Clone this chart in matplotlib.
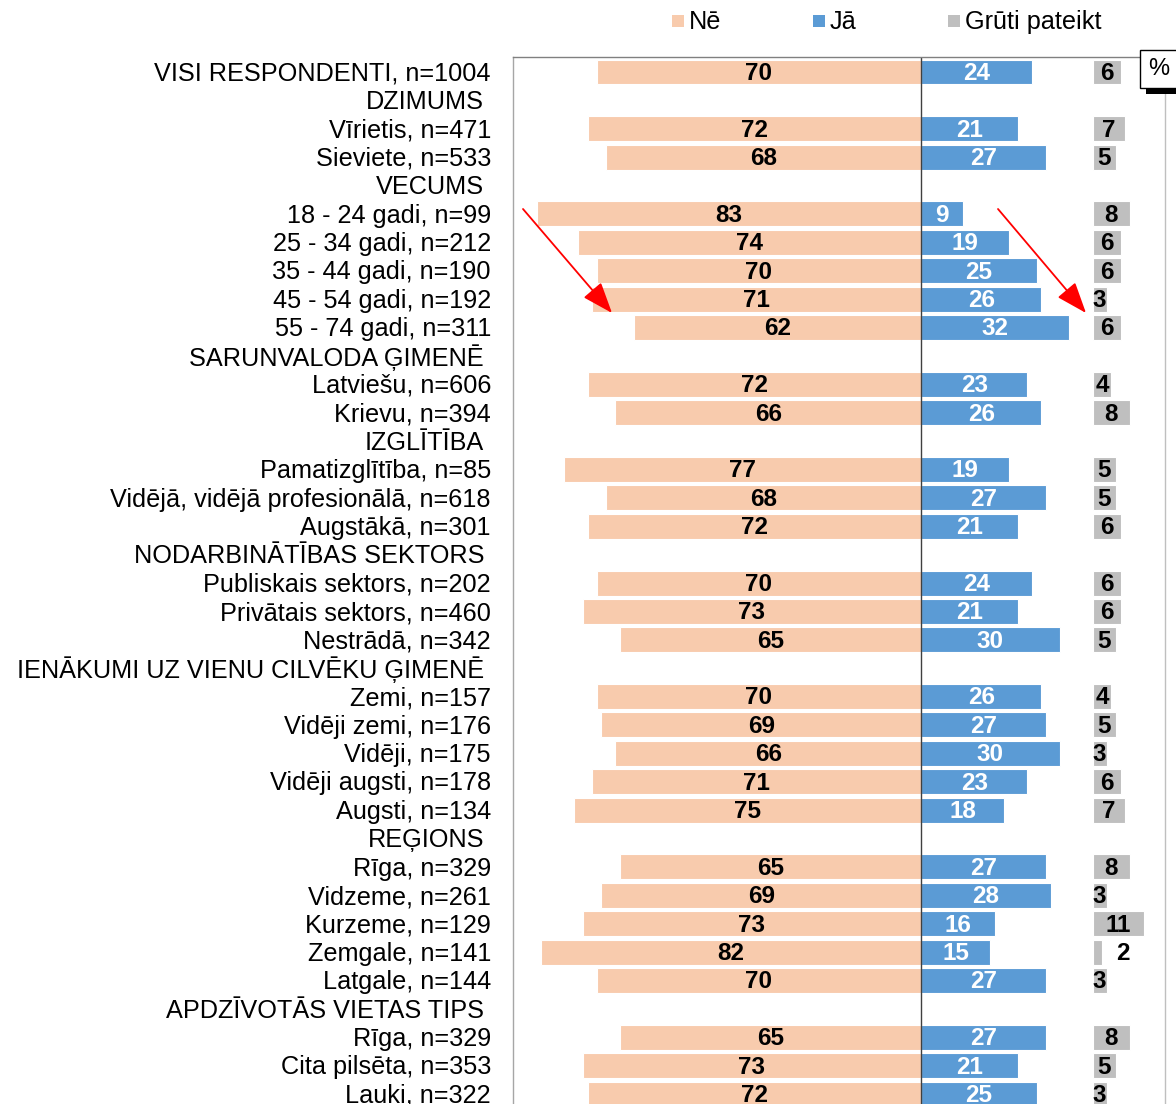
import matplotlib
matplotlib.use("Agg")
import matplotlib.pyplot as plt
from matplotlib.patches import Rectangle
from matplotlib.transforms import blended_transform_factory

categories = [
    "VISI RESPONDENTI, n=1004", "DZIMUMS", "Vīrietis, n=471", "Sieviete, n=533",
    "VECUMS", "18 - 24 gadi, n=99", "25 - 34 gadi, n=212", "35 - 44 gadi, n=190",
    "45 - 54 gadi, n=192", "55 - 74 gadi, n=311", "SARUNVALODA ĢIMENĒ",
    "Latviešu, n=606", "Krievu, n=394", "IZGLĪTĪBA", "Pamatizglītība, n=85",
    "Vidējā, vidējā profesionālā, n=618", "Augstākā, n=301", "NODARBINĀTĪBAS SEKTORS",
    "Publiskais sektors, n=202", "Privātais sektors, n=460", "Nestrādā, n=342",
    "IENĀKUMI UZ VIENU CILVĒKU ĢIMENĒ", "Zemi, n=157", "Vidēji zemi, n=176",
    "Vidēji, n=175", "Vidēji augsti, n=178", "Augsti, n=134", "REĢIONS",
    "Rīga, n=329", "Vidzeme, n=261", "Kurzeme, n=129", "Zemgale, n=141",
    "Latgale, n=144", "APDZĪVOTĀS VIETAS TIPS", "Rīga, n=329",
    "Cita pilsēta, n=353", "Lauki, n=322",
]
headers = {"DZIMUMS", "VECUMS", "SARUNVALODA ĢIMENĒ", "IZGLĪTĪBA", "NODARBINĀTĪBAS SEKTORS",
           "IENĀKUMI UZ VIENU CILVĒKU ĢIMENĒ", "REĢIONS", "APDZĪVOTĀS VIETAS TIPS"}

ne = [70, 72, 68, 83, 74, 70, 71, 62, 72, 66, 77, 68, 72, 70, 73, 65,
      70, 69, 66, 71, 75, 65, 69, 73, 82, 70, 65, 73, 72]
ja = [24, 21, 27, 9, 19, 25, 26, 32, 23, 26, 19, 27, 21, 24, 21, 30,
      26, 27, 30, 23, 18, 27, 28, 16, 15, 27, 27, 21, 25]
gruti = [6, 7, 5, 8, 6, 6, 3, 6, 4, 8, 5, 5, 6, 6, 6, 5,
         4, 5, 3, 6, 7, 8, 3, 11, 2, 3, 8, 5, 3]
legend_labels = ["Nē", "Jā", "Grūti pateikt"]

C_NE = "#F8CBAD"
C_JA = "#5B9BD5"
C_GR = "#BFBFBF"
GR_OFFSET = 37.1

W, H = 1176, 1104
fig = plt.figure(figsize=(W / 100, H / 100), dpi=100)

row_px = 28.39
row0_y = 72
top_px = 57
ylim_top = -(row0_y - top_px) / row_px
ylim_bot = 37.0
bot_px = row0_y + ylim_bot * row_px
left_px, right_px = 513, 1165
ax = fig.add_axes([left_px / W, 1 - bot_px / H, (right_px - left_px) / W, (bot_px - top_px) / H])
ax.set_xlim(-88.1, 52.7)
ax.set_ylim(ylim_bot, ylim_top)

data_rows = [i for i, c in enumerate(categories) if c not in headers]

ax.barh(data_rows, [-v for v in ne], height=0.88, color=C_NE, edgecolor="white", linewidth=0.8)
ax.barh(data_rows, ja, height=0.88, color=C_JA, edgecolor="white", linewidth=0.8)
ax.barh(data_rows, gruti, left=GR_OFFSET, height=0.88, color=C_GR, edgecolor="white", linewidth=0.8)

lab_font = ["Liberation Sans", "DejaVu Sans"]
dy = 0.05
for r, n, j, g in zip(data_rows, ne, ja, gruti):
    ax.text(-n / 2, r + dy, str(n), ha="center", va="center", fontsize=17.5, fontweight="bold",
            family=lab_font, color="black")
    ax.text(j / 2, r + dy, str(j), ha="center", va="center", fontsize=17.5, fontweight="bold",
            family=lab_font, color="white")
    if g >= 3:
        ax.text(GR_OFFSET + g / 2, r + dy, str(g), ha="center", va="center", fontsize=17.5,
                fontweight="bold", family=lab_font, color="black")
    else:
        ax.text(GR_OFFSET + g + 4.4, r + dy, str(g), ha="center", va="center", fontsize=17.5,
                fontweight="bold", family=lab_font, color="black")

ax.axvline(0, color="#404040", lw=1.0)
ax.set_xticks([])
ax.set_yticks([])
ax.spines["bottom"].set_visible(False)
ax.spines["left"].set_color("#A6A6A6")
ax.spines["top"].set_color("#808080")
ax.spines["right"].set_color("#BFBFBF")
for s in ("left", "top", "right"):
    ax.spines[s].set_linewidth(1.0)

# category labels
trans = blended_transform_factory(fig.transFigure, ax.transData)
for i, c in enumerate(categories):
    x = (484 if c in headers else 491) / W
    ax.text(x, i + 0.06, c, transform=trans, ha="right", va="center", fontsize=18.2,
            family=["Liberation Sans", "DejaVu Sans"], color="black", clip_on=False)

# legend
leg_x = [672, 813, 948]
for lx, lab, col in zip(leg_x, legend_labels, [C_NE, C_JA, C_GR]):
    fig.patches.append(Rectangle((lx / W, 1 - 27 / H), 12 / W, 12 / H,
                                 transform=fig.transFigure, facecolor=col, edgecolor="none"))
    fig.text((lx + 17) / W, 1 - 22 / H, lab, ha="left", va="center", fontsize=18.2,
             family=["Liberation Sans", "DejaVu Sans"])

# % box
fig.patches.append(Rectangle((1146 / W, 1 - 94 / H), 40 / W, 7 / H, transform=fig.transFigure,
                             facecolor="black", edgecolor="none", zorder=5))
fig.patches.append(Rectangle((1140 / W, 1 - 88 / H), 45 / W, 38 / H, transform=fig.transFigure,
                             facecolor="white", edgecolor="black", linewidth=1.0, zorder=6))
fig.text(1159 / W, 1 - 69 / H, "%", ha="center", va="center", fontsize=17,
         family=["Liberation Sans", "DejaVu Sans"], zorder=7)

# red arrows
for (x0, y0, x1, y1) in [(523, 209, 612, 313), (998, 209, 1086, 313)]:
    ax.annotate("", xy=(x1, H - y1), xytext=(x0, H - y0), xycoords="figure pixels",
                textcoords="figure pixels",
                arrowprops=dict(arrowstyle="-|>,head_length=0.8,head_width=0.3", color="red",
                                lw=1.3, mutation_scale=24, shrinkA=0, shrinkB=0))

fig.savefig("out.png", dpi=100)
